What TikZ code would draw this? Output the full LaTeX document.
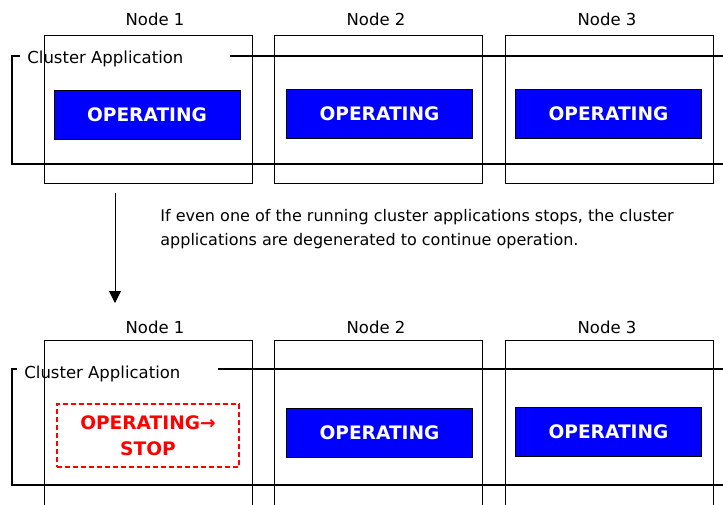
\documentclass[tikz,border=0pt]{standalone}
\usepackage{fontspec}
\setmainfont{DejaVu Sans}
\usepackage{tikz}
\usetikzlibrary{arrows.meta}

\begin{document}
\begin{tikzpicture}[x=0.5pt, y=-0.5pt,
  every node/.style={inner sep=0pt, font=\fontsize{8.25}{12}\selectfont},
  nodebox/.style={draw, line width=0.5pt, minimum width=104pt, minimum height=74pt},
  longbox/.style={nodebox, minimum height=90pt},
  runbox/.style={draw, line width=0.5pt, fill=blue, text=white, minimum width=93pt, minimum height=24.5pt, font=\fontsize{9.3}{11}\selectfont\bfseries},
  stopbox/.style={draw=red, line width=0.6pt, dash pattern=on 2.5pt off 1.5pt, text=red, minimum width=91pt, minimum height=31.5pt, align=center, font=\fontsize{9.3}{12.8}\selectfont\bfseries},
  frame/.style={line width=1pt}]
\useasboundingbox (0,0) rectangle (723,504);
\clip (0,0) rectangle (723,504);

\node[anchor=base] (lab1a) at (155,25) {Node 1};
\node[anchor=base] (lab2a) at (376,25) {Node 2};
\node[anchor=base] (lab3a) at (607,25) {Node 3};
\node[nodebox] (box1a) at (148.5,109) {};
\node[nodebox] (box2a) at (378.5,109) {};
\node[nodebox] (box3a) at (609.5,109) {};
\node[anchor=base west] (clua) at (27,63) {Cluster Application};
\draw[frame] (20,56) -- (12,56) -- (12,164) -- (723,164);
\draw[frame] (230,56) -- (723,56);
\node[runbox] (run1a) at (147,114.5) {OPERATING};
\node[runbox] (run2a) at (379.5,113.5) {OPERATING};
\node[runbox] (run3a) at (608.5,113.5) {OPERATING};

\coordinate (arrtop) at (115,193);
\coordinate (arrtip) at (115,303);
\draw[-{Triangle[length=6pt,width=6pt]}] (arrtop) -- (arrtip);
\node[anchor=base west, align=left, font=\fontsize{8}{12}\selectfont] (note) at (160,245) {If even one of the running cluster applications stops, the cluster\\applications are degenerated to continue operation.};

\node[anchor=base] (lab1b) at (155,333) {Node 1};
\node[anchor=base] (lab2b) at (376,333) {Node 2};
\node[anchor=base] (lab3b) at (607,333) {Node 3};
\node[longbox] (box1b) at (148.5,430) {};
\node[longbox] (box2b) at (378.5,430) {};
\node[longbox] (box3b) at (609.5,430) {};
\node[anchor=base west] (club) at (24,378) {Cluster Application};
\draw[frame] (17,369) -- (12,369) -- (12,485) -- (723,485);
\draw[frame] (218,369) -- (723,369);
\node[stopbox] (stop1b) at (148,435.5) {OPERATING→\\STOP};
\node[runbox] (run2b) at (379.5,432.5) {OPERATING};
\node[runbox] (run3b) at (608.5,432) {OPERATING};
\end{tikzpicture}
\end{document}
